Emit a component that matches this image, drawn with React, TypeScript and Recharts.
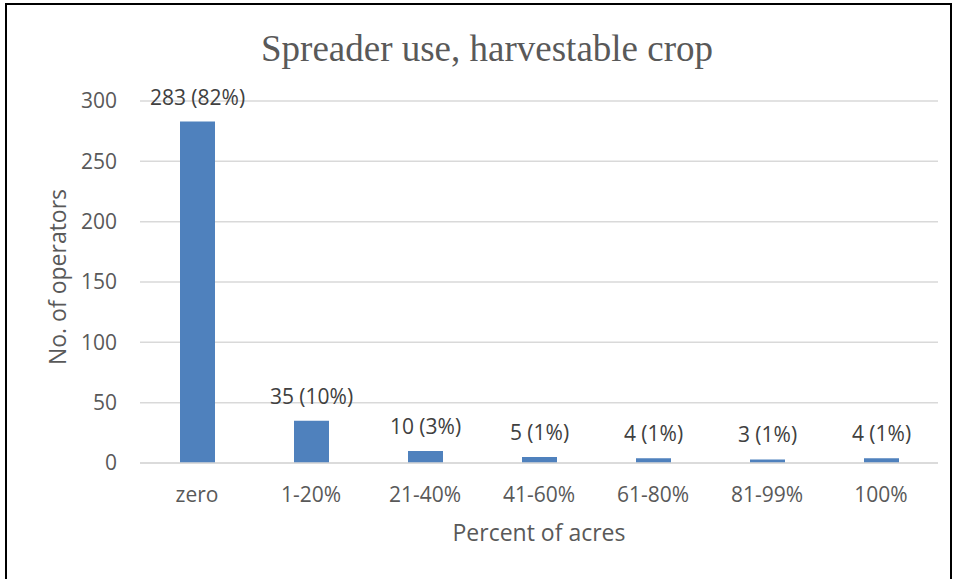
import React from "react";
import { BarChart, Bar, XAxis, YAxis, CartesianGrid, LabelList, Label } from "recharts";

const categories = ["zero", "1-20%", "21-40%", "41-60%", "61-80%", "81-99%", "100%"];
const operators = [283, 35, 10, 5, 4, 3, 4];
const percents = ["82%", "10%", "3%", "1%", "1%", "1%", "1%"];
const yTicks = [0, 50, 100, 150, 200, 250, 300];

const data = categories.map((c, i) => ({
  category: c,
  value: operators[i],
  label: `${operators[i]} (${percents[i]})`,
}));

const FONT = "'Open Sans', sans-serif";

const YTitle = () => (
  <text
    x={0}
    y={0}
    transform="translate(66, 277) rotate(-90)"
    textAnchor="middle"
    fill="#595959"
    fontFamily={FONT}
    fontSize={23}
  >
    No. of operators
  </text>
);

const renderBarLabel = (props: any) => {
  const { x, y, width, value } = props;
  return (
    <text
      x={Number(x) + Number(width) / 2}
      y={Number(y) - 17}
      textAnchor="middle"
      fill="#404040"
      fontFamily={FONT}
      fontSize={21}
    >
      {value}
    </text>
  );
};

export default function App() {
  return (
    <div style={{ position: "absolute", left: 0, top: 0, width: 954, height: 579, background: "#fff" }}>
      <div
        style={{
          position: "absolute",
          left: 5,
          top: 3,
          width: 943,
          height: 580,
          borderLeft: "2px solid #000",
          borderTop: "2px solid #000",
          borderRight: "2px solid #000",
        }}
      />
      <BarChart
        width={954}
        height={579}
        data={data}
        margin={{ top: 101, right: 16, bottom: 26, left: 0 }}
        style={{ position: "absolute", left: 0, top: 0 }}
      >
        <text
          x={487}
          y={61}
          textAnchor="middle"
          fill="#595959"
          fontFamily="'Liberation Serif', 'Times New Roman', serif"
          fontSize={37}
        >
          Spreader use, harvestable crop
        </text>
        <CartesianGrid vertical={false} stroke="#d9d9d9" strokeWidth={1.5} />
        <XAxis
          dataKey="category"
          height={90}
          tickLine={false}
          tickSize={0}
          tickMargin={24}
          axisLine={{ stroke: "#d9d9d9", strokeWidth: 1.5 }}
          tick={{ fill: "#595959", fontFamily: FONT, fontSize: 21 }}
        >
          <Label
            value="Percent of acres"
            position="insideBottom"
            offset={12}
            fill="#595959"
            fontFamily={FONT}
            fontSize={23}
          />
        </XAxis>
        <YAxis
          width={140}
          domain={[0, 300]}
          ticks={yTicks}
          axisLine={false}
          tickLine={false}
          tickSize={0}
          tickMargin={23}
          tick={{ fill: "#595959", fontFamily: FONT, fontSize: 21 }}
        >
          <Label content={() => <YTitle />} />
        </YAxis>
        <Bar dataKey="value" fill="#4F81BD" barSize={35} isAnimationActive={false}>
          <LabelList dataKey="label" content={renderBarLabel} />
        </Bar>
      </BarChart>
    </div>
  );
}
